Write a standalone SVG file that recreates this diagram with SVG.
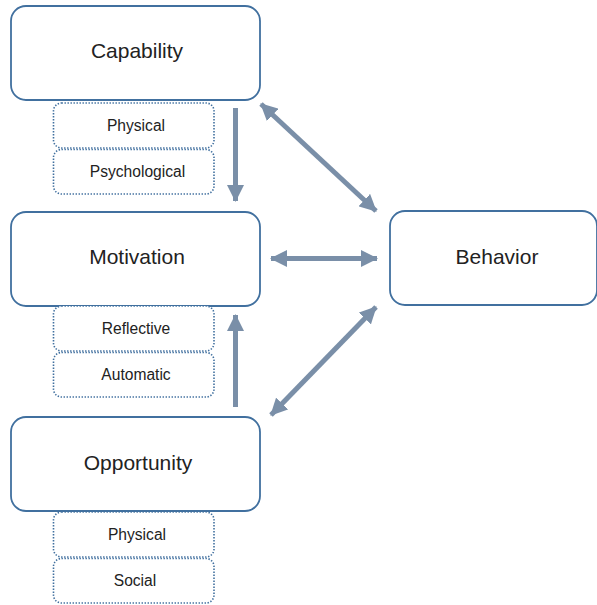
<svg xmlns="http://www.w3.org/2000/svg" width="597" height="605" viewBox="0 0 597 605">
<style>
.main{fill:#fff;stroke:#41709f;stroke-width:1.8}
.sub{fill:#fff;stroke:#41709f;stroke-width:1.6;stroke-dasharray:1.4 1.6}
.t{font-family:"Liberation Sans",Arial,sans-serif;fill:#222;text-anchor:middle}
.big{font-size:21px}
.small{font-size:15.6px}
.c{stroke:#7a8fa8;stroke-width:5;fill:none}
</style>
<defs>
<marker id="ah" markerUnits="userSpaceOnUse" markerWidth="17" markerHeight="17" viewBox="0 0 17 17" refX="16" refY="8.5" orient="auto-start-reverse">
<path d="M0,0 L17,8.5 L0,17 Z" fill="#7a8fa8"/>
</marker>
</defs>
<g id="connectors">
<line class="c" x1="235.5" y1="108" x2="235.5" y2="201" marker-end="url(#ah)"/>
<line class="c" x1="235.5" y1="407" x2="235.5" y2="315" marker-end="url(#ah)"/>
<line class="c" x1="261" y1="104" x2="376" y2="211" marker-start="url(#ah)" marker-end="url(#ah)"/>
<line class="c" x1="271" y1="258.5" x2="377" y2="258.5" marker-start="url(#ah)" marker-end="url(#ah)"/>
<line class="c" x1="376" y1="307" x2="271" y2="415" marker-start="url(#ah)" marker-end="url(#ah)"/>
</g>
<g id="capability">
<rect class="main" x="11" y="6" width="249" height="94" rx="15"/>
<text class="t big" x="137" y="58">Capability</text>
</g>
<g id="cap-physical">
<rect class="sub" x="53.5" y="103" width="160.5" height="45" rx="8"/>
<text class="t small" x="136" y="131">Physical</text>
</g>
<g id="cap-psychological">
<rect class="sub" x="53.5" y="149.5" width="160.5" height="44.5" rx="8"/>
<text class="t small" x="137.5" y="177">Psychological</text>
</g>
<g id="motivation">
<rect class="main" x="11" y="212" width="249" height="94" rx="15"/>
<text class="t big" x="137" y="264">Motivation</text>
</g>
<g id="mot-reflective">
<rect class="sub" x="53.5" y="306" width="160.5" height="45" rx="8"/>
<text class="t small" x="136" y="334">Reflective</text>
</g>
<g id="mot-automatic">
<rect class="sub" x="53.5" y="352.5" width="160.5" height="44.5" rx="8"/>
<text class="t small" x="136" y="380">Automatic</text>
</g>
<g id="opportunity">
<rect class="main" x="11" y="417" width="249" height="94" rx="15"/>
<text class="t big" x="138" y="470">Opportunity</text>
</g>
<g id="opp-physical">
<rect class="sub" x="53.5" y="512" width="160.5" height="45" rx="8"/>
<text class="t small" x="137" y="540">Physical</text>
</g>
<g id="opp-social">
<rect class="sub" x="53.5" y="558.5" width="160.5" height="44.5" rx="8"/>
<text class="t small" x="135" y="586">Social</text>
</g>
<g id="behavior">
<rect class="main" x="390" y="211" width="207" height="94" rx="15"/>
<text class="t big" x="497" y="264">Behavior</text>
</g>
</svg>
